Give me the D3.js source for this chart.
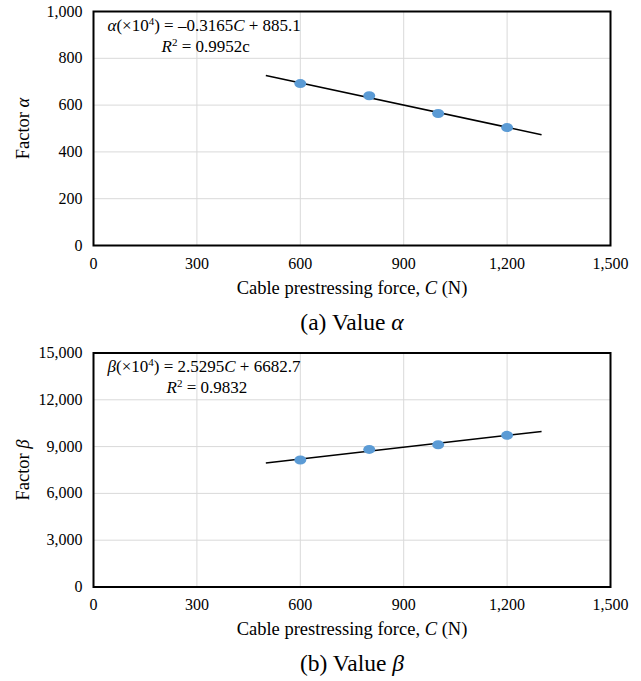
<!DOCTYPE html>
<html>
<head>
<meta charset="utf-8">
<script src="https://cdn.jsdelivr.net/npm/d3@7"></script>
<style>
  body { margin: 0; background: #fff; }
</style>
</head>
<body>
<div id="chart"></div>
<script>
// prestressing force (N) where the factors were measured
const forces = [600, 800, 1000, 1200];
const alphaValues = [692, 640, 564, 504];
const betaValues = [8140, 8820, 9120, 9720];

// linear fits reported on the chart
const alphaFit = [-0.3165, 885.1];
const betaFit = [2.5295, 6682.7];
const fitRange = [500, 1300];

const xTicks = [0, 300, 600, 900, 1200, 1500];
const alphaTicks = [0, 200, 400, 600, 800, 1000];
const betaTicks = [0, 3000, 6000, 9000, 12000, 15000];

const width = 641, height = 681;
const serif = '"Liberation Serif", "Times New Roman", serif';
const svg = d3.select('#chart').append('svg')
  .attr('width', width)
  .attr('height', height)
  .attr('font-family', serif)
  .style('font-family', serif);

const left = 93.5, right = 610.5;
const fmt = d3.format(',');

function drawPanel(opts) {
  const { top, bottom, values, fit, yTicks, symbol, caption, eq, r2, r2x } = opts;

  const x = d3.scaleLinear().domain([0, 1500]).range([left, right]);
  const y = d3.scaleLinear().domain([0, d3.max(yTicks)]).range([bottom, top]);

  const g = svg.append('g');

  // gridlines
  g.selectAll('.vgrid').data(xTicks.slice(1, -1)).enter()
    .append('line')
    .attr('x1', d => x(d)).attr('x2', d => x(d))
    .attr('y1', top).attr('y2', bottom)
    .attr('stroke', '#d9d9d9').attr('stroke-width', 1);
  g.selectAll('.hgrid').data(yTicks.slice(1, -1)).enter()
    .append('line')
    .attr('x1', left).attr('x2', right)
    .attr('y1', d => y(d)).attr('y2', d => y(d))
    .attr('stroke', '#d9d9d9').attr('stroke-width', 1);

  // frame
  g.append('rect')
    .attr('x', left).attr('y', top)
    .attr('width', right - left).attr('height', bottom - top)
    .attr('fill', 'none').attr('stroke', '#000').attr('stroke-width', 2);

  // tick labels
  g.selectAll('.xt').data(xTicks).enter()
    .append('text')
    .attr('x', d => x(d)).attr('y', bottom + 23)
    .attr('text-anchor', 'middle')
    .style('font-size', '16px')
    .text(d => fmt(d));
  g.selectAll('.yt').data(yTicks).enter()
    .append('text')
    .attr('x', left - 11).attr('y', d => y(d) + 5)
    .attr('text-anchor', 'end')
    .style('font-size', '16px')
    .text(d => fmt(d));

  // axis titles
  const xt = g.append('text')
    .attr('x', (left + right) / 2).attr('y', bottom + 48)
    .attr('text-anchor', 'middle')
    .style('font-size', '18.5px');
  xt.append('tspan').text('Cable prestressing force, ');
  xt.append('tspan').style('font-style', 'italic').text('C');
  xt.append('tspan').text(' (N)');

  const yt = g.append('text')
    .attr('transform', `translate(29, ${(top + bottom) / 2}) rotate(-90)`)
    .attr('text-anchor', 'middle')
    .style('font-size', '18.5px');
  yt.append('tspan').text('Factor ');
  yt.append('tspan').style('font-style', 'italic').text(symbol);

  // caption
  const cap = g.append('text')
    .attr('x', (left + right) / 2).attr('y', bottom + 84)
    .attr('text-anchor', 'middle')
    .style('font-size', '23.5px');
  cap.append('tspan').text(caption + ' ');
  cap.append('tspan').style('font-style', 'italic').text(symbol);

  // trendline
  const line = d3.line().x(d => x(d)).y(d => y(fit[0] * d + fit[1]));
  g.append('path')
    .datum(fitRange)
    .attr('d', line)
    .attr('fill', 'none')
    .attr('stroke', '#000')
    .attr('stroke-width', 1.5);

  // markers
  g.selectAll('.pt').data(forces).enter()
    .append('ellipse')
    .attr('cx', d => x(d))
    .attr('cy', (d, i) => y(values[i]))
    .attr('rx', 6).attr('ry', 4.5)
    .attr('fill', '#5b9bd5');

  // equation
  const e1 = g.append('text')
    .attr('x', left + 14).attr('y', top + 19)
    .style('font-size', '17px');
  e1.append('tspan').style('font-style', 'italic').text(symbol);
  e1.append('tspan').text('(×10');
  e1.append('tspan').attr('dy', -6).style('font-size', '11px').text('4');
  e1.append('tspan').attr('dy', 6).text(') = ' + eq[0]);
  e1.append('tspan').style('font-style', 'italic').text('C');
  e1.append('tspan').text(' + ' + eq[1]);

  const e2 = g.append('text')
    .attr('x', left + r2x).attr('y', top + 40)
    .style('font-size', '17px');
  e2.append('tspan').style('font-style', 'italic').text('R');
  e2.append('tspan').attr('dy', -6).style('font-size', '11px').text('2');
  e2.append('tspan').attr('dy', 6).text(' = ' + r2);
}

drawPanel({
  top: 11.5, bottom: 245.5, values: alphaValues, fit: alphaFit,
  yTicks: alphaTicks, symbol: 'α', caption: '(a) Value',
  eq: ['–0.3165', '885.1'], r2: '0.9952c', r2x: 68
});

drawPanel({
  top: 353, bottom: 587, values: betaValues, fit: betaFit,
  yTicks: betaTicks, symbol: 'β', caption: '(b) Value',
  eq: ['2.5295', '6682.7'], r2: '0.9832', r2x: 73
});
</script>
</body>
</html>
